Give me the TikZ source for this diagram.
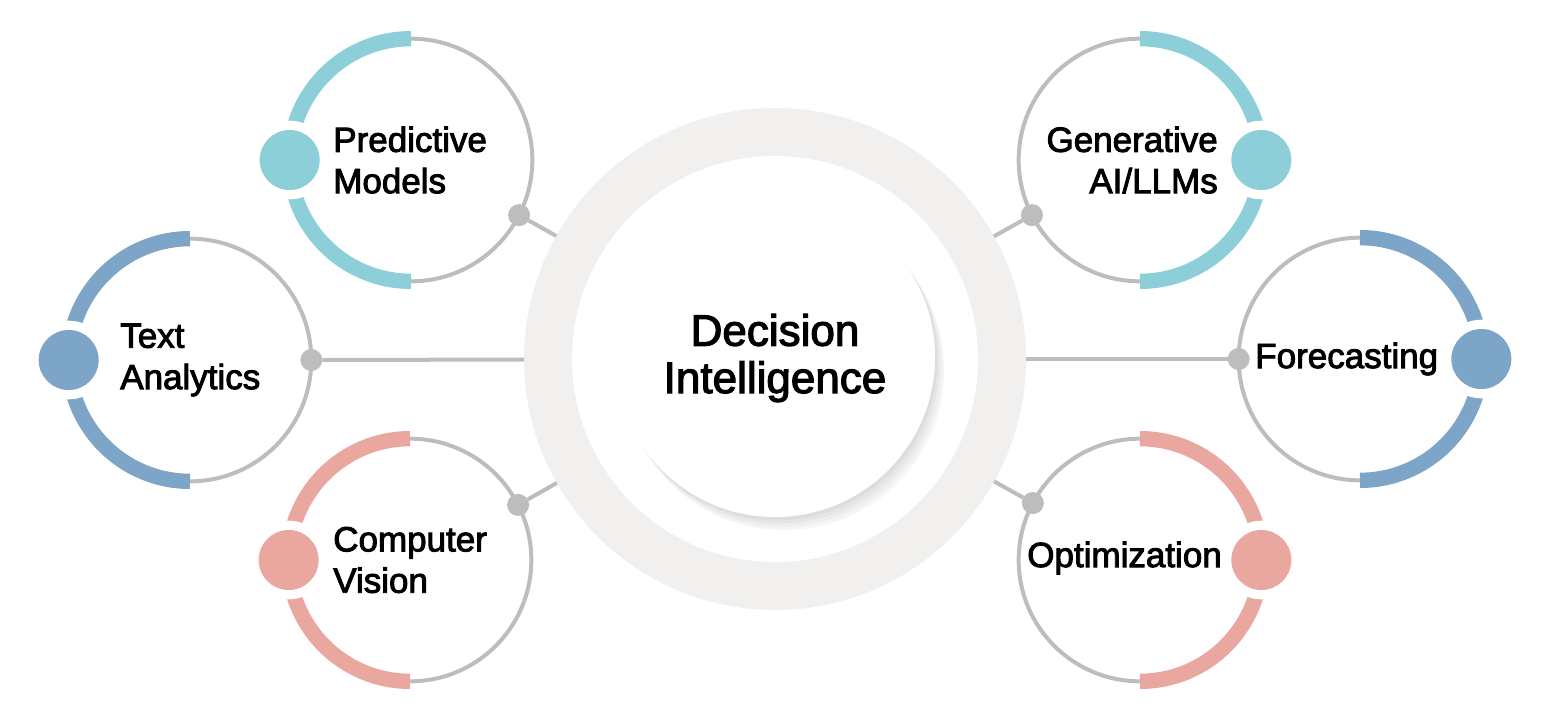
\documentclass[tikz,border=0pt]{standalone}
\usepackage{fontspec}
\newfontfamily\labfont{Liberation Sans}[FakeBold=2.6]
\definecolor{cteal}{HTML}{8CCFD8}
\definecolor{cblue}{HTML}{7DA5C7}
\definecolor{cpink}{HTML}{E9A79F}
\definecolor{cgray}{HTML}{BDBDBD}
\definecolor{cring}{HTML}{F1F0EF}
\tikzset{
  sat/.style={circle, draw=cgray, line width=3pt, minimum size=182pt, inner sep=0pt, outer sep=0pt},
  band/.style={line width=11.5pt},
  halo/.style={circle, fill=white, minimum size=59pt, inner sep=0pt, outer sep=0pt},
  bigdot/.style={circle, minimum size=45pt, inner sep=0pt, outer sep=0pt},
  smalldot/.style={circle, fill=cgray, minimum size=16.5pt, inner sep=0pt, outer sep=0pt},
  conn/.style={draw=cgray, line width=3pt},
  lab/.style={font=\labfont\fontsize{26.25}{31}\selectfont, inner sep=0pt},
  centerlab/.style={font=\labfont\fontsize{33}{35.5}\selectfont, align=center, inner sep=0pt}
}
\begin{document}
\begin{tikzpicture}[x=0.75pt,y=-0.75pt]
\useasboundingbox (0,0) rectangle (1549,718);
% central ring
\node[circle, fill=cring, minimum size=376.5pt, inner sep=0pt, outer sep=0pt] (dc) at (775,359) {};
\fill[white] (dc.center) circle[radius=152.25pt];
\coordinate (sc) at (775,357);
\foreach \k/\p in {1/4, 0.75/6.7, 0.5/9.8, 0.25/13.3}
  \fill[black!\p] ([xshift=\k*6.75pt, yshift=-\k*9.75pt]sc) circle[radius=120pt];
\node[circle, fill=white, minimum size=240pt, inner sep=0pt, outer sep=0pt] (dw) at (sc) {};
\node[centerlab] (dt) at (775,358) {Decision\\Intelligence};
% satellites
\foreach \n/\x/\y/\c/\e/\d/\a in {pm/411/160/cteal/270/180/-27.5, ta/190/360/cblue/270/180/0, cv/410/560/cpink/270/180/27.5, ga/1140/160/cteal/-90/0/207.5, fc/1360/359/cblue/-90/0/180, op/1140/560/cpink/-90/0/152.5}{
  \node[sat] (\n) at (\x,\y) {};
  \draw[band, draw=\c] (\n.90) arc[start angle=90, end angle=\e, radius=91pt];
  \node[halo] (\n-h) at (\n.\d) {};
  \node[bigdot, fill=\c] (\n-b) at (\n.\d) {};
  \node[smalldot] (\n-s) at (\n.\a) {};
  \draw[conn] (\n-s) -- (dc);
}
% labels
\node[lab, anchor=west, align=left] (pm-t) at (333,160) {Predictive\\Models};
\node[lab, anchor=west, align=left] (ta-t) at (120,360) {Text\\Analytics};
\node[lab, anchor=west, align=left] (cv-t) at (333,560) {Computer\\Vision};
\node[lab, anchor=east, align=right] (ga-t) at (1218,160) {Generative\\AI/LLMs};
\node[lab, anchor=west] (fc-t) at (1255,359) {Forecasting};
\node[lab, anchor=west] (op-t) at (1027,558) {Optimization};
\end{tikzpicture}
\end{document}
